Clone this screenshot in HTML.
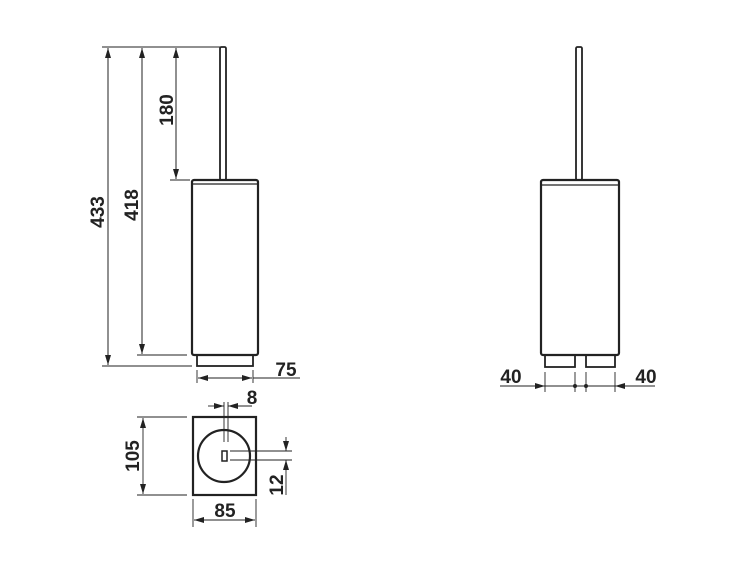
<!DOCTYPE html>
<html><head><meta charset="utf-8"><style>
html,body{margin:0;padding:0;background:#fff;}
svg{display:block;}
text{font-family:"Liberation Sans",Arial,sans-serif;font-weight:bold;font-size:19px;fill:#222;}
</style></head><body>
<svg width="750" height="563" viewBox="0 0 750 563" xmlns="http://www.w3.org/2000/svg">
<defs>
<marker id="a" viewBox="0 0 10 6" refX="10" refY="3" markerWidth="10" markerHeight="6" markerUnits="userSpaceOnUse" orient="auto-start-reverse"><path d="M0,0L10,3L0,6z" fill="#222"/></marker>
</defs>
<g stroke="#222" fill="none">
<rect x="220" y="47" width="6" height="133" rx="1.5" stroke-width="1.8"/>
<rect x="192" y="180" width="66" height="175" rx="2" stroke-width="2.2"/>
<line x1="193" y1="184" x2="257" y2="184" stroke-width="1.2"/>
<rect x="197" y="355" width="56" height="11" stroke-width="1.8"/>
<g stroke-width="0.9">
<line x1="102" y1="47" x2="222" y2="47"/>
<line x1="102" y1="366" x2="192" y2="366"/>
<line x1="137" y1="355" x2="187" y2="355"/>
<line x1="170" y1="180" x2="190" y2="180"/>
<line x1="197" y1="370" x2="197" y2="383"/>
<line x1="253" y1="370" x2="253" y2="383"/>
<line x1="253" y1="378" x2="300" y2="378"/>
</g>
<g stroke-width="1">
<line x1="108" y1="48" x2="108" y2="365" marker-start="url(#a)" marker-end="url(#a)"/>
<line x1="142" y1="48" x2="142" y2="354" marker-start="url(#a)" marker-end="url(#a)"/>
<line x1="176" y1="48" x2="176" y2="179" marker-start="url(#a)" marker-end="url(#a)"/>
<line x1="198" y1="378" x2="252" y2="378" marker-start="url(#a)" marker-end="url(#a)"/>
</g>
<rect x="193" y="417" width="63" height="78" stroke-width="2.2"/>
<circle cx="224" cy="456" r="26" stroke-width="2.2"/>
<rect x="222" y="451" width="5" height="10" stroke-width="1.5"/>
<g stroke-width="0.9">
<line x1="224" y1="402" x2="224" y2="442"/>
<line x1="228" y1="402" x2="228" y2="442"/>
<line x1="208" y1="406" x2="224" y2="406" marker-end="url(#a)"/>
<line x1="252" y1="406" x2="228" y2="406" marker-end="url(#a)"/>
<line x1="137" y1="417" x2="187" y2="417"/>
<line x1="137" y1="495" x2="187" y2="495"/>
<line x1="143" y1="418" x2="143" y2="494" marker-start="url(#a)" marker-end="url(#a)"/>
<line x1="193" y1="499" x2="193" y2="527"/>
<line x1="256" y1="499" x2="256" y2="527"/>
<line x1="194" y1="520" x2="255" y2="520" marker-start="url(#a)" marker-end="url(#a)"/>
<line x1="230" y1="451" x2="292" y2="451"/>
<line x1="230" y1="460" x2="292" y2="460"/>
<line x1="286" y1="437" x2="286" y2="451" marker-end="url(#a)"/>
<line x1="286" y1="495" x2="286" y2="460" marker-end="url(#a)"/>
</g>
<rect x="576" y="47" width="6" height="133" rx="1.5" stroke-width="1.8"/>
<rect x="541" y="180" width="78" height="175" rx="2" stroke-width="2.2"/>
<line x1="542" y1="185" x2="618" y2="185" stroke-width="1.2"/>
<rect x="545" y="355" width="30" height="12" stroke-width="1.8"/>
<rect x="586" y="355" width="29" height="12" stroke-width="1.8"/>
<g stroke-width="0.9">
<line x1="545" y1="372" x2="545" y2="392"/>
<line x1="575" y1="372" x2="575" y2="392"/>
<line x1="586" y1="372" x2="586" y2="392"/>
<line x1="615" y1="372" x2="615" y2="392"/>
<line x1="500" y1="386" x2="545" y2="386" marker-end="url(#a)"/>
<line x1="655" y1="386" x2="615" y2="386" marker-end="url(#a)"/>
<line x1="545" y1="386" x2="615" y2="386"/>
</g>
</g>
<circle cx="575" cy="386" r="2" fill="#222"/>
<circle cx="586" cy="386" r="2" fill="#222"/>
<text transform="translate(104,212) rotate(-90)" text-anchor="middle">433</text>
<text transform="translate(138,205) rotate(-90)" text-anchor="middle">418</text>
<text transform="translate(173,110) rotate(-90)" text-anchor="middle">180</text>
<text x="286" y="376" text-anchor="middle">75</text>
<text x="252" y="404" text-anchor="middle">8</text>
<text transform="translate(139,456) rotate(-90)" text-anchor="middle">105</text>
<text x="225" y="517" text-anchor="middle">85</text>
<text transform="translate(283,485) rotate(-90)" text-anchor="middle">12</text>
<text x="511" y="383" text-anchor="middle">40</text>
<text x="646" y="383" text-anchor="middle">40</text>
</svg>
</body></html>
